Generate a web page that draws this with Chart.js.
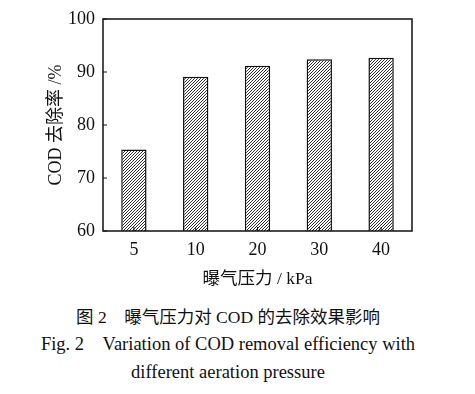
<!DOCTYPE html>
<html>
<head>
<meta charset="utf-8">
<script src="https://cdn.jsdelivr.net/npm/chart.js@4/dist/chart.umd.min.js"></script>
<style>
  body { margin: 0; background: #fff; width: 475px; height: 394px; position: relative; overflow: hidden; }
  #wrap { position: absolute; left: 0; top: 0; width: 475px; height: 296px; }
  .cap { position: absolute; left: 0; width: 456px; text-align: center; color: #111;
         font-family: "Liberation Serif", "Noto Sans CJK SC", serif; font-size: 18.5px; white-space: pre; line-height: 22px; }
</style>
</head>
<body>
<div id="wrap"><canvas id="chart" width="475" height="296"></canvas></div>
<div class="cap" style="top:306px; font-size:17.5px;">图 2　曝气压力对 COD 的去除效果影响</div>
<div class="cap" style="top:333px;">Fig. 2　Variation of COD removal efficiency with</div>
<div class="cap" style="top:361px;">different aeration pressure</div>
<script>
const pressures = ['5', '10', '20', '30', '40'];
const removalRate = [75.4, 89.1, 91.2, 92.4, 92.7];
const yTicks = [60, 70, 80, 90, 100];

const fontFamily = '"Liberation Serif", "Noto Sans CJK SC", serif';

function hatch() {
    const c = document.createElement('canvas');
    c.width = 3;
    c.height = 3;
    const g = c.getContext('2d');
    g.fillStyle = '#fff';
    g.fillRect(0, 0, 3, 3);
    g.strokeStyle = '#333';
    g.lineWidth = 1;
    g.beginPath();
    g.moveTo(-1, 4); g.lineTo(4, -1);
    g.moveTo(-1, 1); g.lineTo(1, -1);
    g.moveTo(2, 4); g.lineTo(4, 2);
    g.stroke();
    return g.createPattern(c, 'repeat');
}

// box round the plot and inward ticks
const frame = {
    id: 'frame',
    afterDraw(chart) {
        const { ctx, chartArea: a, scales } = chart;
        ctx.save();
        ctx.strokeStyle = '#111';
        ctx.lineWidth = 1.5;
        ctx.strokeRect(a.left, a.top, a.right - a.left, a.bottom - a.top);
        ctx.lineWidth = 1;
        ctx.beginPath();
        scales.y.ticks.forEach((t, i) => {
            const y = scales.y.getPixelForTick(i);
            ctx.moveTo(a.left, y); ctx.lineTo(a.left + 4, y);
        });
        scales.x.ticks.forEach((t, i) => {
            const x = scales.x.getPixelForTick(i);
            ctx.moveTo(x, a.bottom); ctx.lineTo(x, a.bottom - 4);
        });
        ctx.stroke();
        ctx.restore();
    }
};

new Chart(document.getElementById('chart'), {
    type: 'bar',
    data: {
        labels: pressures,
        datasets: [{
            data: removalRate,
            backgroundColor: hatch(),
            borderColor: '#111',
            borderWidth: 1.5,
            barPercentage: 0.41,
            categoryPercentage: 1,
        }],
    },
    options: {
        responsive: false,
        animation: false,
        layout: { padding: { left: 41, right: 63, top: 19, bottom: 2 } },
        plugins: { legend: { display: false }, tooltip: { enabled: false } },
        scales: {
            x: {
                grid: { display: false, drawTicks: false },
                border: { display: false },
                ticks: { color: '#111', padding: 8, font: { family: fontFamily, size: 18 } },
                title: { display: true, text: '曝气压力 / kPa', color: '#111', font: { family: fontFamily, size: 17.5 } },
                afterFit(s) { s.height = 63; },
            },
            y: {
                min: 60,
                max: 100,
                afterBuildTicks(s) { s.ticks = yTicks.map(v => ({ value: v })); },
                grid: { display: false, drawTicks: false },
                border: { display: false },
                ticks: { color: '#111', padding: 8, font: { family: fontFamily, size: 18 } },
                title: { display: true, text: 'COD 去除率 /%', color: '#111', font: { family: fontFamily, size: 18 } },
                afterFit(s) { s.width = 62; },
            },
        },
    },
    plugins: [frame],
});
</script>
</body>
</html>
